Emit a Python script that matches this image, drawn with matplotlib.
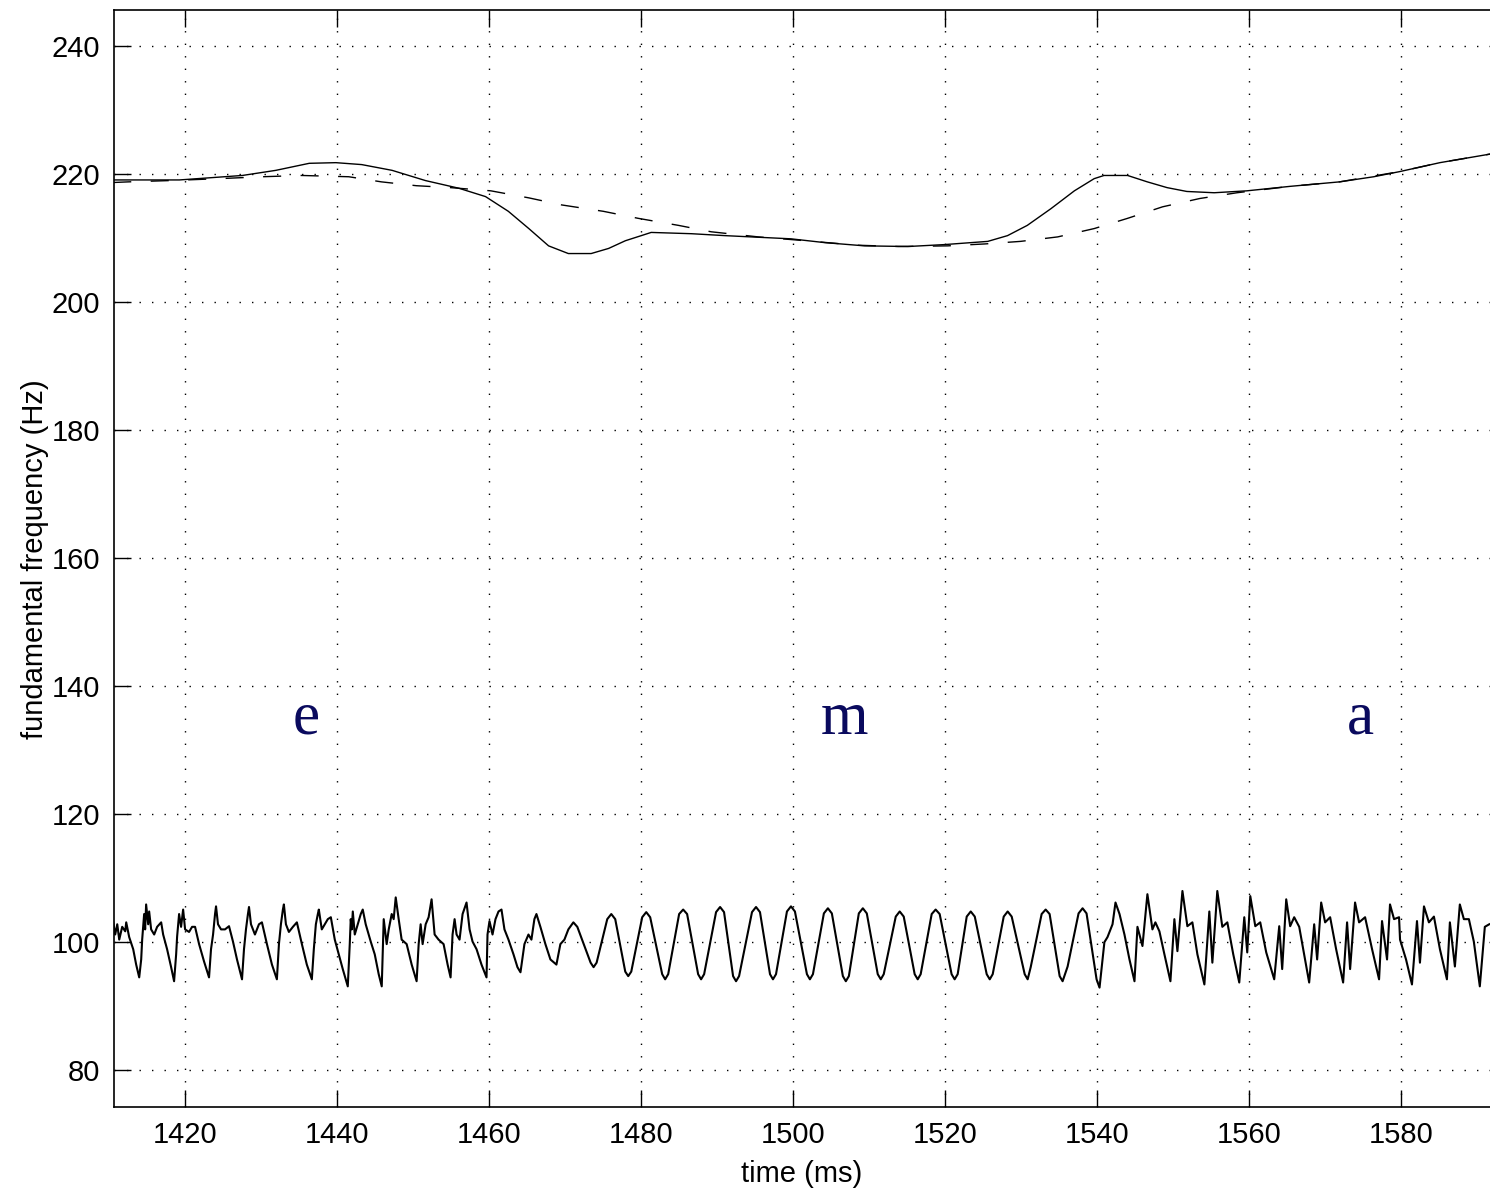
import matplotlib
matplotlib.use('Agg')
import matplotlib.pyplot as plt

# smooth f0 contour (solid) and its target/stylised version (dashed)
solid_t = [1410.5, 1419.2, 1427.5, 1431.9, 1436.3, 1439.8, 1443.2, 1447.2, 1451.6,
           1456.0, 1459.5, 1462.5, 1465.2, 1467.8, 1470.4, 1473.4, 1475.7, 1477.9,
           1480.0, 1481.3, 1486.6, 1491.0, 1499.7, 1504.2, 1509.4, 1515.1, 1519.9,
           1525.6, 1528.2, 1530.8, 1533.9, 1537.0, 1539.6, 1540.9, 1544.0, 1546.6,
           1549.2, 1551.8, 1555.4, 1559.7, 1565.4, 1571.9, 1576.4, 1579.8, 1585.1, 1592.0]
solid_f = [219.0, 219.0, 219.7, 220.5, 221.6, 221.7, 221.4, 220.5, 218.9,
           217.7, 216.4, 214.1, 211.4, 208.7, 207.5, 207.5, 208.3, 209.5,
           210.3, 210.8, 210.6, 210.3, 209.8, 209.2, 208.7, 208.6, 208.9,
           209.4, 210.3, 211.9, 214.5, 217.3, 219.2, 219.7, 219.7, 218.7,
           217.8, 217.2, 217.0, 217.3, 218.0, 218.7, 219.5, 220.3, 221.7, 223.1]

dashed_t = [1410.5, 1412.5, 1417.9, 1424.4, 1430.1, 1435.3, 1441.5, 1445.8, 1450.4,
            1454.9, 1460.2, 1465.2, 1469.5, 1475.0, 1479.6, 1484.9, 1489.2, 1495.4,
            1500.6, 1508.5, 1513.8, 1520.3, 1525.2, 1529.9, 1534.8, 1539.6, 1544.0,
            1548.6, 1553.5, 1558.4, 1565.4, 1571.9, 1579.8, 1585.1, 1592.0]
dashed_f = [218.6, 218.7, 218.9, 219.2, 219.5, 219.7, 219.5, 218.7, 218.1,
            217.8, 217.3, 216.2, 215.1, 214.1, 213.0, 211.9, 210.9, 210.1,
            209.6, 208.8, 208.6, 208.7, 209.0, 209.4, 210.1, 211.4, 213.0,
            214.8, 216.1, 217.0, 218.0, 218.7, 220.3, 221.7, 223.1]

# speech waveform, drawn on the same axes around 100 Hz
wave_t = [
    1410.50, 1410.76, 1411.03, 1411.29, 1411.68, 1412.08, 1412.21, 1412.60, 1413.13, 1413.52, 1413.92,
    1414.18, 1414.31, 1414.57, 1414.70, 1414.83, 1415.10, 1415.23, 1415.49, 1415.89, 1416.28, 1416.81,
    1417.07, 1417.59, 1418.12, 1418.51,
    1418.78, 1418.91, 1419.17, 1419.43, 1419.70, 1419.96, 1420.48, 1420.88, 1421.27, 1421.80, 1422.45, 1423.11,
    1423.37, 1423.64, 1423.90, 1424.03, 1424.29, 1424.69, 1425.21, 1425.74, 1426.26, 1426.79, 1427.45,
    1427.71, 1427.97, 1428.23, 1428.37, 1428.63, 1429.15, 1429.68, 1430.07, 1430.73, 1431.39, 1432.04,
    1432.31, 1432.57, 1432.83, 1432.96, 1433.23, 1433.62, 1434.15, 1434.67, 1435.33, 1435.98, 1436.64,
    1436.90, 1437.17, 1437.43, 1437.56, 1437.95, 1438.35, 1438.74, 1439.14, 1439.66, 1440.19, 1440.71, 1441.37,
    1441.63, 1441.76, 1441.90, 1442.03, 1442.29, 1442.68, 1443.08, 1443.34, 1443.73, 1444.39, 1444.92, 1445.44, 1445.84,
    1446.10, 1446.49, 1446.76, 1447.15, 1447.41, 1447.68, 1448.07, 1448.46, 1449.12, 1449.78, 1450.43,
    1450.70, 1450.96, 1451.22, 1451.62, 1452.01, 1452.40, 1452.80, 1453.32, 1453.98, 1454.51, 1454.90,
    1455.16, 1455.43, 1455.69, 1456.08, 1456.48, 1457.00, 1457.40, 1457.79, 1458.32, 1458.97, 1459.63,
    1459.76, 1460.02, 1460.42, 1460.81, 1461.21, 1461.60, 1461.99, 1462.52, 1463.18, 1463.70, 1464.10,
    1464.62, 1465.15, 1465.54, 1465.93, 1466.20, 1466.72, 1467.38, 1468.04, 1468.83,
    1469.35, 1469.88, 1470.40, 1471.06,
    1471.58, 1473.33, 1473.72, 1474.12, 1475.52, 1476.05, 1476.57, 1477.89, 1478.28, 1478.68,
    1480.12, 1480.65, 1481.17, 1482.75, 1483.14, 1483.54, 1484.98, 1485.51, 1486.03, 1487.48, 1487.87, 1488.27,
    1489.84, 1490.37, 1490.89, 1492.08, 1492.47, 1492.87, 1494.57, 1495.10, 1495.62, 1496.94, 1497.33, 1497.73,
    1499.17, 1499.70, 1500.22, 1501.80, 1502.19, 1502.59, 1504.03, 1504.56, 1505.08, 1506.53, 1506.92, 1507.32,
    1508.63, 1509.16, 1509.68, 1511.12, 1511.52, 1511.91, 1513.49, 1514.01, 1514.54, 1515.98, 1516.38, 1516.77,
    1518.22, 1518.74, 1519.27, 1520.84, 1521.24, 1521.64, 1522.83, 1523.36, 1523.89, 1525.46, 1525.86, 1526.25,
    1527.70, 1528.22, 1528.75, 1530.46, 1530.85, 1531.25, 1532.69, 1533.22, 1533.74, 1535.06, 1535.45, 1536.11,
    1537.55, 1538.08, 1538.60, 1539.92, 1540.31,
    1540.95, 1541.36, 1542.02, 1542.41, 1542.94, 1543.59, 1544.25, 1544.91,
    1545.30, 1545.96, 1546.61, 1547.27, 1547.66, 1548.19, 1548.85, 1549.64,
    1550.16, 1550.56, 1551.22, 1551.87, 1552.53, 1553.19, 1554.11,
    1554.76, 1555.16, 1555.81, 1556.47, 1557.13, 1557.91, 1558.70,
    1559.36, 1559.75, 1560.15, 1560.81, 1561.46, 1562.25, 1563.30,
    1563.96, 1564.35, 1564.88, 1565.40, 1565.93, 1566.59, 1567.24, 1567.90,
    1568.56, 1568.95, 1569.48, 1570.00, 1570.66, 1571.45, 1572.37,
    1572.89, 1573.29, 1573.94, 1574.47, 1575.26, 1576.18, 1577.10,
    1577.49, 1578.15, 1578.54, 1579.07, 1579.73, 1579.86, 1580.65, 1581.43,
    1582.09, 1582.48, 1583.01, 1583.66, 1584.32, 1585.11, 1586.03,
    1586.42, 1587.08, 1587.73, 1588.26, 1588.92, 1589.57, 1590.36, 1591.02, 1591.60]
wave_f = [
    103.0, 101.1, 102.7, 100.3, 102.3, 101.6, 103.0, 100.7, 98.8, 96.4, 94.4,
    97.2, 100.3, 104.3, 101.9, 105.8, 102.7, 104.7, 101.9, 101.1, 102.3, 103.0,
    101.1, 98.8, 96.0, 93.8,
    98.0, 100.8, 104.3, 102.3, 105.0, 101.9, 101.5, 102.3, 102.3, 99.6, 96.9, 94.4,
    98.8, 101.1, 104.3, 105.5, 102.7, 101.9, 101.9, 102.4, 100.0, 97.2, 94.1,
    98.8, 101.9, 104.3, 105.4, 102.7, 101.1, 102.7, 103.0, 99.6, 96.4, 94.1,
    99.6, 102.7, 105.0, 105.8, 102.7, 101.5, 102.3, 103.0, 99.6, 96.4, 94.1,
    98.8, 102.7, 104.3, 105.0, 101.9, 102.7, 103.5, 103.8, 100.3, 98.0, 95.7, 93.0,
    99.6, 103.5, 101.9, 104.7, 101.1, 102.7, 104.3, 105.0, 102.7, 100.0, 98.0, 94.9, 93.0,
    103.5, 99.6, 101.9, 104.3, 103.5, 106.9, 103.5, 100.3, 99.6, 96.4, 93.8,
    99.6, 102.7, 99.6, 102.7, 103.8, 106.6, 101.1, 100.3, 99.6, 96.4, 94.4,
    101.1, 103.5, 101.1, 100.3, 104.3, 106.1, 101.9, 100.0, 98.8, 96.4, 94.4,
    101.1, 103.2, 101.1, 103.5, 104.7, 105.0, 101.9, 100.3, 98.0, 96.0, 95.2,
    99.6, 101.1, 100.3, 103.5, 104.3, 102.3, 99.6, 97.2, 96.4,
    99.6, 100.3, 101.9, 103.0,
    102.3, 96.7, 96.0, 96.7, 103.5, 104.3, 103.5, 95.3, 94.6, 95.3,
    103.8, 104.6, 103.8, 94.9, 94.1, 94.9, 104.3, 105.0, 104.3, 94.9, 94.1, 94.9,
    104.6, 105.4, 104.6, 94.6, 93.8, 94.6, 104.6, 105.4, 104.6, 94.9, 94.1, 94.9,
    104.7, 105.5, 104.7, 94.9, 94.1, 94.9, 104.4, 105.2, 104.4, 94.6, 93.8, 94.6,
    104.4, 105.2, 104.4, 94.9, 94.1, 94.9, 103.9, 104.7, 103.9, 94.9, 94.1, 94.9,
    104.3, 105.0, 104.3, 94.9, 94.1, 94.9, 103.9, 104.7, 103.9, 94.9, 94.1, 94.9,
    103.9, 104.7, 103.9, 94.9, 94.1, 96.0, 104.3, 105.0, 104.3, 94.6, 93.8, 96.1,
    104.4, 105.2, 104.4, 94.1, 92.8,
    99.9, 100.7, 102.7, 106.1, 104.3, 101.1, 97.2, 93.8,
    102.3, 99.3, 107.4, 101.9, 103.0, 101.6, 98.0, 93.8,
    103.5, 98.5, 107.9, 102.4, 103.0, 98.0, 93.3,
    104.7, 96.7, 107.9, 102.3, 103.0, 98.0, 93.6,
    103.8, 98.3, 107.1, 102.4, 103.0, 98.3, 94.1,
    102.4, 95.7, 106.6, 102.4, 103.8, 102.3, 98.0, 93.6,
    102.7, 97.2, 106.1, 103.0, 103.8, 98.8, 93.6,
    103.0, 95.7, 106.1, 103.0, 103.8, 98.8, 94.1,
    103.2, 97.2, 105.8, 103.5, 103.8, 100.3, 97.2, 93.3,
    103.2, 96.7, 105.5, 103.0, 103.9, 98.8, 94.1,
    103.0, 96.1, 105.8, 103.5, 103.5, 100.0, 93.0, 102.3, 102.7]

phonemes = ['e', 'm', 'a']
phoneme_t = [1435.9, 1506.7, 1574.7]

x_ticks = [1420, 1440, 1460, 1480, 1500, 1520, 1540, 1560, 1580]
y_ticks = [80, 100, 120, 140, 160, 180, 200, 220, 240]


def plotting_graph():
    plt.rcParams['font.family'] = ['Liberation Sans', 'DejaVu Sans']
    fig = plt.figure(figsize=(14.9, 11.89), dpi=100)
    ax = fig.add_axes([0.0765, 0.0687, 0.9235, 0.9226])

    ax.plot(wave_t, wave_f, color='black', linewidth=1.5)
    ax.plot(solid_t, solid_f, color='black', linewidth=1.0)
    ax.plot(dashed_t, dashed_f, color='black', linewidth=1.0, linestyle=(0, (13, 14)))

    for name, t in zip(phonemes, phoneme_t):
        ax.text(t, 134.8, name, ha='center', va='center', fontsize=44,
                family='Liberation Serif', color='#0a0a5e')

    ax.set_xlim(1410.6, 1591.7)
    ax.set_ylim(74.1, 245.5)
    ax.set_xticks(x_ticks)
    ax.set_yticks(y_ticks)
    ax.grid(True, color='black', linestyle=(0, (1, 8)), linewidth=1.0)
    ax.tick_params(direction='in', length=12, width=1.0, labelsize=21,
                   top=True, right=False, pad=10)
    for side in ax.spines.values():
        side.set_linewidth(1.2)
    ax.spines['right'].set_visible(False)

    ax.set_xlabel('time (ms)', fontsize=21, labelpad=8)
    ax.set_ylabel('fundamental frequency (Hz)', fontsize=21, labelpad=2)

    plt.savefig('out.png', dpi=100)


if __name__ == '__main__':
    plotting_graph()
